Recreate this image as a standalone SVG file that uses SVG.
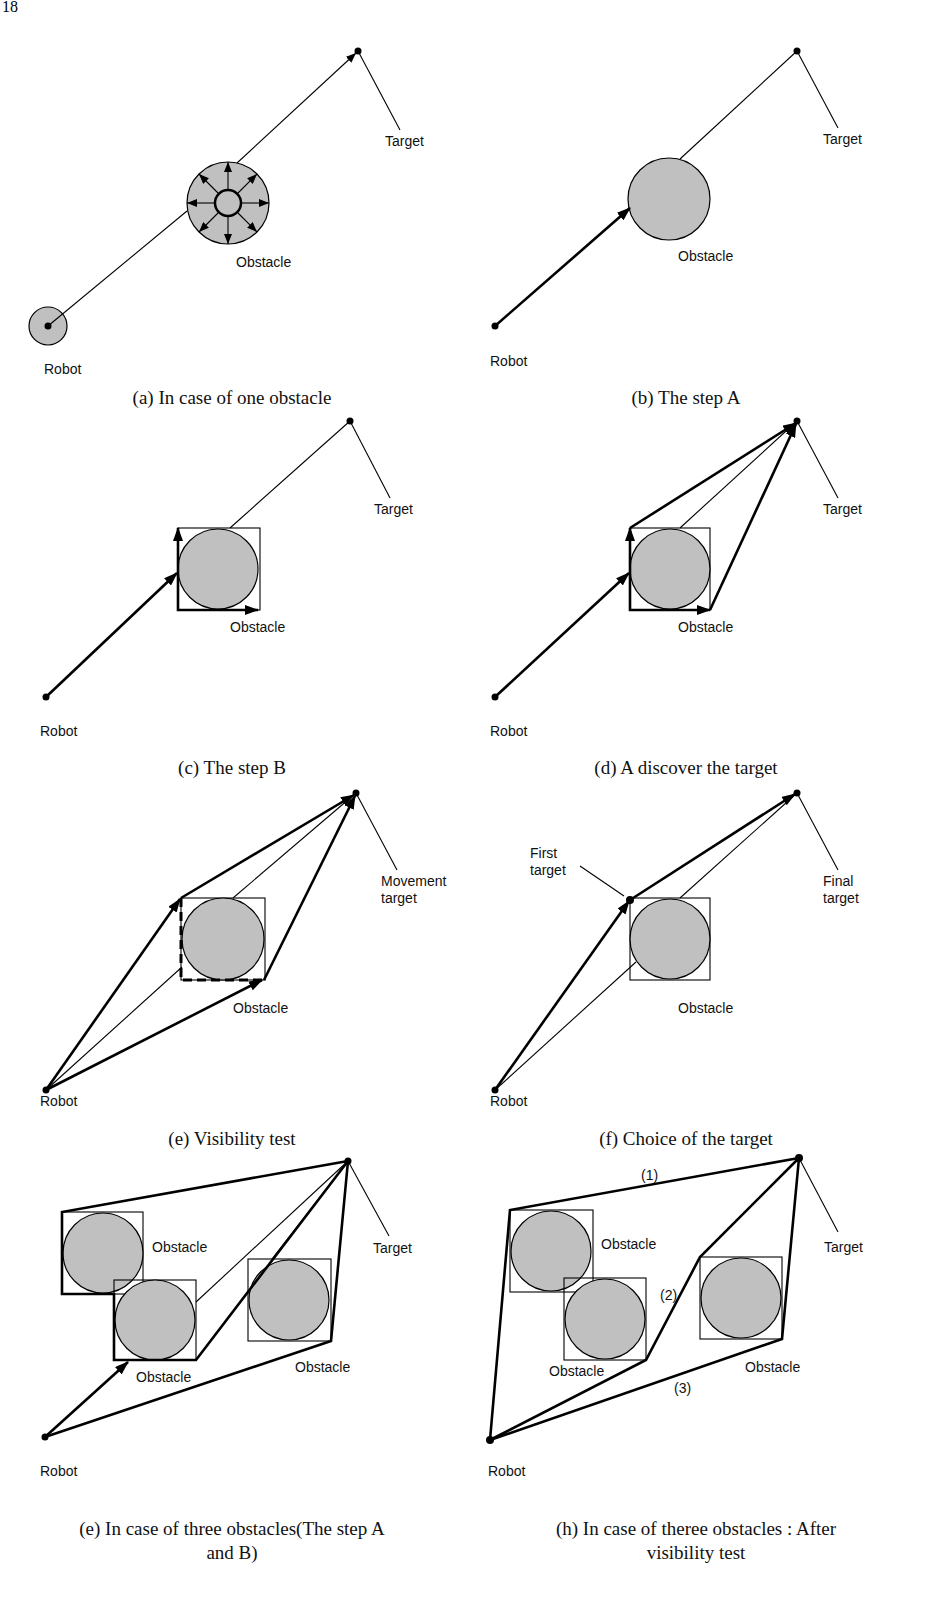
<svg xmlns="http://www.w3.org/2000/svg" width="928" height="1602" viewBox="0 0 928 1602">
<style>
.lb{font-family:"Liberation Sans",Arial,sans-serif;font-size:14px;fill:#111}
.cap{font-family:"Liberation Serif","Times New Roman",serif;font-size:19px;fill:#111;text-anchor:middle}
.tn{stroke:#000;stroke-width:1.1;fill:none}
.tk{stroke:#000;stroke-width:2.6;fill:none}
.ds{stroke:#000;stroke-width:3;fill:none;stroke-dasharray:9,5}
.ob{fill:#c0c0c0;stroke:#000;stroke-width:1.2}
.sq{fill:none;stroke:#000;stroke-width:1.1}
.dot{fill:#000}
</style>
<defs>
<marker id="ar" markerUnits="userSpaceOnUse" markerWidth="14" markerHeight="10" refX="13" refY="5" orient="auto"><path d="M0,0 L14,5 L0,10 Z" fill="#000"/></marker>
<marker id="as" markerUnits="userSpaceOnUse" markerWidth="10" markerHeight="8" refX="10" refY="4" orient="auto"><path d="M0,0 L10,4 L0,8 Z" fill="#000"/></marker>
</defs>
<text x="2" y="12" font-family="Liberation Serif,serif" font-size="16">18</text>

<!-- (a) -->
<g id="panel-a">
<circle class="ob" cx="48" cy="326" r="19"/>
<circle class="ob" cx="228" cy="203" r="41"/>
<circle cx="228" cy="203" r="13" fill="#c0c0c0" stroke="#000" stroke-width="2.5"/>
<g class="tn" marker-end="url(#as)">
<line x1="228" y1="190" x2="228" y2="162"/><line x1="228" y1="216" x2="228" y2="244"/>
<line x1="215" y1="203" x2="187" y2="203"/><line x1="241" y1="203" x2="269" y2="203"/>
<line x1="219" y1="194" x2="199" y2="174"/><line x1="237" y1="194" x2="257" y2="174"/>
<line x1="219" y1="212" x2="199" y2="232"/><line x1="237" y1="212" x2="257" y2="232"/>
</g>
<line class="tn" x1="48" y1="326" x2="187" y2="211"/>
<line class="tn" x1="237" y1="163" x2="356" y2="53" marker-end="url(#as)"/>
<circle class="dot" cx="48" cy="326" r="3.5"/><circle class="dot" cx="358" cy="51" r="3.5"/>
<line class="tn" x1="358" y1="51" x2="400" y2="130"/>
<text class="lb" x="385" y="146">Target</text>
<text class="lb" x="236" y="267">Obstacle</text>
<text class="lb" x="44" y="374">Robot</text>
<text class="cap" x="232" y="404">(a) In case of one obstacle</text>
</g>

<!-- (b) -->
<g id="panel-b">
<circle class="ob" cx="669" cy="199" r="41"/>
<line class="tk" x1="495" y1="326" x2="630" y2="208" marker-end="url(#ar)"/>
<line class="tn" x1="680" y1="159" x2="797" y2="51"/>
<circle class="dot" cx="495" cy="326" r="3.5"/><circle class="dot" cx="797" cy="51" r="3.5"/>
<line class="tn" x1="797" y1="51" x2="838" y2="128"/>
<text class="lb" x="823" y="144">Target</text>
<text class="lb" x="678" y="261">Obstacle</text>
<text class="lb" x="490" y="366">Robot</text>
<text class="cap" x="686" y="404">(b) The step A</text>
</g>

<!-- (c) -->
<g id="panel-c">
<rect class="sq" x="178" y="528" width="82" height="82"/>
<circle class="ob" cx="218" cy="569" r="40"/>
<line class="tk" x1="46" y1="697" x2="177" y2="573" marker-end="url(#ar)"/>
<line class="tk" x1="178" y1="573" x2="178" y2="528" marker-end="url(#ar)"/>
<polyline class="tk" points="178,573 178,610 258,610" marker-end="url(#ar)"/>
<line class="tn" x1="230" y1="528" x2="350" y2="421"/>
<circle class="dot" cx="46" cy="697" r="3.5"/><circle class="dot" cx="350" cy="421" r="3.5"/>
<line class="tn" x1="350" y1="421" x2="390" y2="498"/>
<text class="lb" x="374" y="514">Target</text>
<text class="lb" x="230" y="632">Obstacle</text>
<text class="lb" x="40" y="736">Robot</text>
<text class="cap" x="232" y="774">(c) The step B</text>
</g>

<!-- (d) -->
<g id="panel-d">
<rect class="sq" x="630" y="528" width="80" height="82"/>
<circle class="ob" cx="670" cy="569" r="40"/>
<line class="tk" x1="495" y1="697" x2="629" y2="573" marker-end="url(#ar)"/>
<line class="tk" x1="630" y1="573" x2="630" y2="528" marker-end="url(#ar)"/>
<polyline class="tk" points="630,573 630,610 710,610" marker-end="url(#ar)"/>
<line class="tk" x1="630" y1="528" x2="796" y2="423" marker-end="url(#ar)"/>
<line class="tk" x1="710" y1="610" x2="796" y2="424" marker-end="url(#ar)"/>
<line class="tn" x1="680" y1="528" x2="797" y2="421"/>
<circle class="dot" cx="495" cy="697" r="3.5"/><circle class="dot" cx="797" cy="421" r="3.5"/>
<line class="tn" x1="797" y1="421" x2="838" y2="498"/>
<text class="lb" x="823" y="514">Target</text>
<text class="lb" x="678" y="632">Obstacle</text>
<text class="lb" x="490" y="736">Robot</text>
<text class="cap" x="686" y="774">(d) A discover the target</text>
</g>

<!-- (e) -->
<g id="panel-e">
<rect class="sq" x="181" y="898" width="84" height="82"/>
<circle class="ob" cx="223" cy="939" r="41"/>
<polyline class="ds" points="181,898 181,980 262,980"/>
<line class="tk" x1="46" y1="1090" x2="180" y2="899" marker-end="url(#ar)"/>
<line class="tk" x1="46" y1="1090" x2="262" y2="980" marker-end="url(#ar)"/>
<line class="tn" x1="46" y1="1090" x2="182" y2="967"/>
<line class="tk" x1="181" y1="898" x2="354" y2="795" marker-end="url(#ar)"/>
<line class="tk" x1="264" y1="980" x2="355" y2="796" marker-end="url(#ar)"/>
<line class="tn" x1="233" y1="898" x2="356" y2="793"/>
<circle class="dot" cx="46" cy="1090" r="3.5"/><circle class="dot" cx="356" cy="793" r="3.5"/>
<line class="tn" x1="356" y1="793" x2="397" y2="870"/>
<text class="lb" x="381" y="886">Movement</text>
<text class="lb" x="381" y="903">target</text>
<text class="lb" x="233" y="1013">Obstacle</text>
<text class="lb" x="40" y="1106">Robot</text>
<text class="cap" x="232" y="1145">(e) Visibility test</text>
</g>

<!-- (f) -->
<g id="panel-f">
<rect class="sq" x="630" y="898" width="80" height="82"/>
<circle class="ob" cx="670" cy="939" r="40"/>
<line class="tk" x1="495" y1="1090" x2="629" y2="901" marker-end="url(#ar)"/>
<line class="tk" x1="630" y1="900" x2="795" y2="794" marker-end="url(#ar)"/>
<line class="tn" x1="495" y1="1090" x2="636" y2="962"/>
<line class="tn" x1="680" y1="898" x2="797" y2="793"/>
<circle class="dot" cx="495" cy="1090" r="3.5"/><circle class="dot" cx="797" cy="793" r="3.5"/><circle class="dot" cx="630" cy="900" r="4"/>
<line class="tn" x1="624" y1="896" x2="580" y2="866"/>
<text class="lb" x="530" y="858">First</text>
<text class="lb" x="530" y="875">target</text>
<line class="tn" x1="797" y1="793" x2="838" y2="870"/>
<text class="lb" x="823" y="886">Final</text>
<text class="lb" x="823" y="903">target</text>
<text class="lb" x="678" y="1013">Obstacle</text>
<text class="lb" x="490" y="1106">Robot</text>
<text class="cap" x="686" y="1145">(f) Choice of the target</text>
</g>

<!-- (g) -->
<g id="panel-g">
<rect class="sq" x="62" y="1212" width="81" height="82"/>
<circle class="ob" cx="103" cy="1253" r="40"/>
<rect class="sq" x="114" y="1280" width="82" height="80"/>
<circle class="ob" cx="155" cy="1320" r="40"/>
<rect class="sq" x="248" y="1259" width="83" height="82"/>
<circle class="ob" cx="289" cy="1300" r="40"/>
<polyline class="tk" points="348,1161 62,1212 62,1294 114,1294 114,1360 196,1360 348,1161"/>
<polyline class="tk" points="45,1437 331,1341 348,1161"/>
<line class="tk" x1="45" y1="1437" x2="128" y2="1362" marker-end="url(#ar)"/>
<line class="tn" x1="196" y1="1302" x2="348" y2="1161"/>
<line class="tn" x1="272" y1="1259" x2="348" y2="1161"/>
<circle class="dot" cx="45" cy="1437" r="3.5"/><circle class="dot" cx="348" cy="1161" r="3.5"/>
<line class="tn" x1="348" y1="1161" x2="389" y2="1236"/>
<text class="lb" x="373" y="1253">Target</text>
<text class="lb" x="152" y="1252">Obstacle</text>
<text class="lb" x="136" y="1382">Obstacle</text>
<text class="lb" x="295" y="1372">Obstacle</text>
<text class="lb" x="40" y="1476">Robot</text>
<text class="cap" x="232" y="1535">(e) In case of three obstacles(The step A</text>
<text class="cap" x="232" y="1559">and B)</text>
</g>

<!-- (h) -->
<g id="panel-h">
<rect class="sq" x="510" y="1210" width="83" height="82"/>
<circle class="ob" cx="551" cy="1251" r="40"/>
<rect class="sq" x="564" y="1278" width="82" height="82"/>
<circle class="ob" cx="605" cy="1319" r="40"/>
<rect class="sq" x="700" y="1257" width="82" height="82"/>
<circle class="ob" cx="741" cy="1298" r="40"/>
<polyline class="tk" points="490,1440 510,1210 799,1158"/>
<polyline class="tk" points="490,1440 646,1360 700,1257 799,1158"/>
<polyline class="tk" points="490,1440 782,1339 799,1158"/>
<circle class="dot" cx="490" cy="1440" r="4"/><circle class="dot" cx="799" cy="1158" r="4"/>
<line class="tn" x1="799" y1="1158" x2="838" y2="1232"/>
<text class="lb" x="824" y="1252">Target</text>
<text class="lb" x="641" y="1180" font-size="12">(1)</text>
<text class="lb" x="660" y="1300" font-size="12">(2)</text>
<text class="lb" x="674" y="1393" font-size="12">(3)</text>
<text class="lb" x="601" y="1249">Obstacle</text>
<text class="lb" x="549" y="1376">Obstacle</text>
<text class="lb" x="745" y="1372">Obstacle</text>
<text class="lb" x="488" y="1476">Robot</text>
<text class="cap" x="696" y="1535">(h) In case of theree obstacles : After</text>
<text class="cap" x="696" y="1559">visibility test</text>
</g>
</svg>
